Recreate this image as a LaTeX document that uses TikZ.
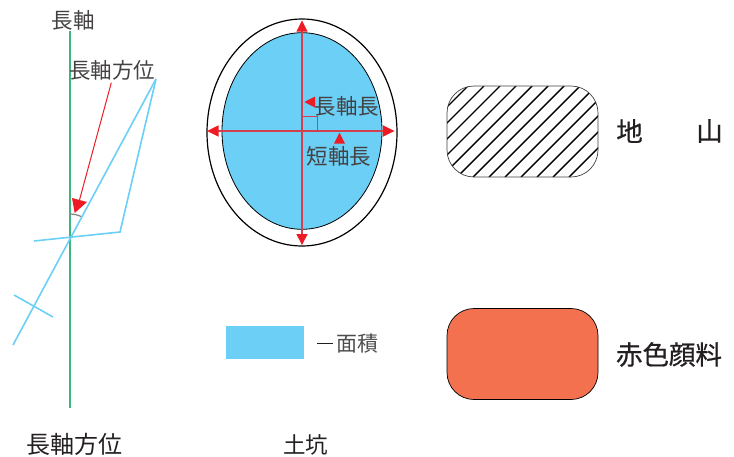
\documentclass[tikz,border=0pt]{standalone}
\usepackage{fontspec}
\setmainfont{Noto Sans CJK JP}
\newfontfamily\keyfont[FakeBold=0.6]{Noto Sans CJK JP}
\definecolor{pitblue}{HTML}{6CCFF6}
\definecolor{axisgreen}{HTML}{3DB67E}
\definecolor{markred}{HTML}{ED1C24}
\definecolor{axisred}{HTML}{D0404E}
\definecolor{pigment}{HTML}{F4714F}
\definecolor{inktext}{HTML}{231F20}
\tikzset{
  innerlabel/.style={inner sep=0pt,text=inktext!85,font=\fontsize{21.5}{23}\selectfont},
  outerlabel/.style={inner sep=0pt,text=inktext,font=\fontsize{24}{26}\selectfont},
  keylabel/.style={inner sep=0pt,text=inktext,font=\keyfont\fontsize{26.5}{28}\selectfont},
  blueline/.style={draw=pitblue,line width=1.6pt},
  redline/.style={draw=axisred,line width=1.2pt},
  redtip/.style={fill=markred,draw=none},
  swatch/.style={rounded corners=27pt,draw=black,line width=0.7pt}
}
\begin{document}
\begin{tikzpicture}[x=1pt,y=-1pt]
\useasboundingbox (0,0) rectangle (734,456);
% orientation figure
\coordinate (gt) at (70,31); \coordinate (gb) at (70,408);
\coordinate (apex) at (156,79); \coordinate (low) at (13,345);
\coordinate (knee) at (120,232); \coordinate (wend) at (34,241);
\coordinate (c1) at (14,295); \coordinate (c2) at (53,317);
\draw[axisgreen,line width=1.7pt] (gt) -- (gb);
\draw[blueline] (apex) -- (low);
\draw[blueline,line join=miter] (apex) -- (knee) -- (wend);
\draw[blueline] (c1) -- (c2);
\draw[gray,line width=1.2pt] (70,214) .. controls (74,214) and (78,215) .. (81,216.5);
\coordinate (rs) at (111.3,82.7); \coordinate (re) at (79.5,200);
\draw[markred,line width=1pt] (rs) -- (re);
\fill[redtip] (72,198) -- (87,202) -- (74.7,213) -- cycle;
\node[innerlabel] (lab1) at (73,20) {長軸};
\node[innerlabel] (lab2) at (112,70) {長軸方位};
\node[outerlabel] (lab3) at (74.5,444.5) {長軸方位};
% pit figure
\draw[black,line width=1.2pt] (302,132.5) ellipse [x radius=95,y radius=113.5];
\draw[black,fill=pitblue,line width=0.8pt] (302,131) ellipse [x radius=80,y radius=98.3];
\coordinate (vt) at (302,25); \coordinate (vb) at (302,240);
\coordinate (hl) at (212,131); \coordinate (hr) at (389,131);
\draw[redline] (vt) -- (vb);
\draw[redline] (hl) -- (hr);
\draw[redline,line width=1pt] (302,116.7) -- (317.5,116.7) -- (317.5,131);
\fill[redtip] (302,20.5) -- (307.7,31.7) -- (296.3,31.7) -- cycle;
\fill[redtip] (302,245) -- (307.7,234) -- (296.3,234) -- cycle;
\fill[redtip] (207,131) -- (218.5,125.3) -- (218.5,136.7) -- cycle;
\fill[redtip] (394.5,131) -- (383,125.3) -- (383,136.7) -- cycle;
\fill[redtip] (304.3,102) -- (315,96.5) -- (315,107.5) -- cycle;
\fill[redtip] (339.5,132.7) -- (345,143.5) -- (334,143.5) -- cycle;
\node[innerlabel] (lab4) at (347,106) {長軸長};
\node[innerlabel] (lab5) at (339,156) {短軸長};
% area legend
\fill[pitblue] (226,326) rectangle (304,359);
\coordinate (d1) at (317,343.5); \coordinate (d2) at (333,343.5);
\draw[inktext,line width=0.8pt] (d1) -- (d2);
\node[inner sep=0pt,text=inktext!80,font=\fontsize{21}{23}\selectfont] (lab6) at (357.5,344) {面積};
\node[inner sep=0pt,text=inktext,font=\fontsize{22.5}{24}\selectfont] (lab7) at (305.5,445) {土坑};
% hatched swatch
\begin{scope}
\clip[rounded corners=27pt] (447,86) rectangle (598,177);
\foreach \k in {-8,...,8}{
  \draw[black,line width=1.4pt] (\k*16+473,177) -- (\k*16+564,86);
}
\end{scope}
\draw[swatch,draw=black!75] (447,86) rectangle (598,177);
\node[keylabel] (lab8) at (629.5,131) {地};
\node[keylabel] (lab9) at (709.5,131) {山};
% pigment swatch
\draw[swatch,fill=pigment] (447,308.5) rectangle (598,399.5);
\node[keylabel] (lab10) at (669,354.5) {赤色顔料};
\end{tikzpicture}
\end{document}
